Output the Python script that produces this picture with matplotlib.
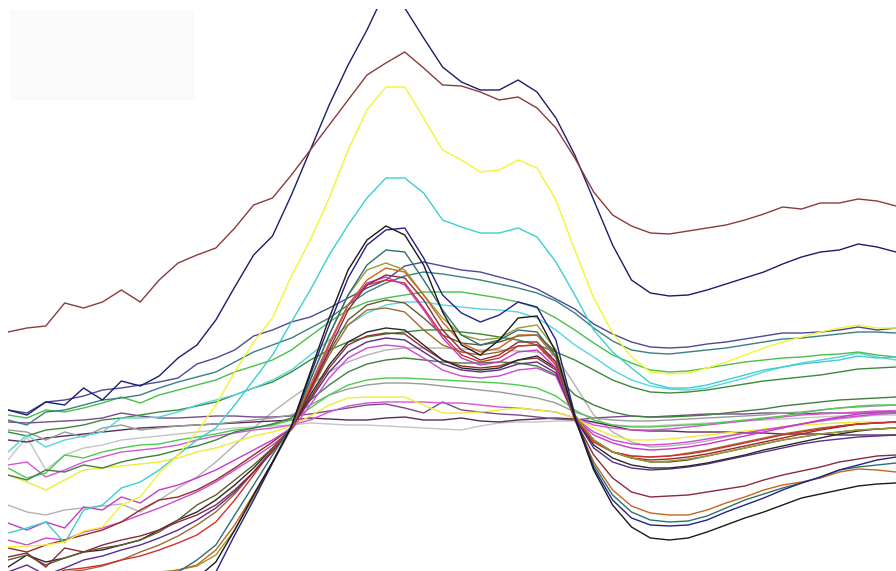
import numpy as np
import matplotlib
matplotlib.use("Agg")
import matplotlib.pyplot as plt
from matplotlib.patches import Rectangle

# Sample positions along the spectrum (48 channels)
channels = np.arange(48)

# Signal depth per channel for each sample (larger = lower on the plot)
brown_top = [332,328,326,303,308,302,290,302,280,263,255,248,228,205,198,175,150,125,100,75,
             63,52,68,85,86,92,100,97,108,128,158,192,215,226,233,234,231,228,225,220,
             214,207,209,203,203,199,201,206]
navy_top = [410,415,402,405,388,400,381,386,376,358,345,320,287,255,236,195,150,105,65,30,
            -10,8,38,67,82,90,90,80,92,118,155,200,245,280,293,296,295,290,284,278,
            272,264,257,252,250,244,247,252]
yellow_top = [547,546,545,542,531,527,505,497,473,455,432,405,372,342,318,276,240,198,150,110,
              87,87,118,150,160,172,170,160,168,200,250,298,333,357,372,374,373,368,362,355,
              348,342,337,332,328,325,328,328]
cyan_top = [533,528,522,543,510,505,488,482,470,455,440,428,405,380,355,322,290,255,225,198,
            178,178,193,220,227,233,233,228,237,262,295,330,352,368,383,388,388,385,380,375,
            370,367,364,362,360,356,358,357]
slate_broad = [410,413,402,400,396,390,388,385,382,378,364,358,350,336,330,322,317,308,298,288,
               280,266,262,266,270,272,277,282,289,299,309,324,334,342,347,348,347,344,342,339,
               336,333,333,332,330,327,330,328]
teal_broad = [420,425,412,410,405,400,398,395,388,382,377,372,362,352,345,338,328,318,305,292,
              283,276,272,274,277,280,284,288,293,301,313,328,341,350,353,354,352,350,348,345,
              342,339,338,336,334,332,332,333]
green_broad = [415,418,410,412,408,403,397,403,395,390,385,380,372,366,360,350,336,322,310,302,
               298,295,292,292,292,295,298,302,308,318,330,343,355,363,370,372,371,368,365,362,
               360,358,357,355,354,352,355,357]
cyan_broad = [452,435,447,440,436,432,418,418,417,412,405,400,395,388,380,370,355,340,325,313,
              305,302,302,305,307,309,310,312,318,330,345,357,370,380,386,389,390,388,383,378,
              372,367,363,360,357,353,357,360]
darkgreen_broad = [432,436,430,428,425,420,418,415,412,410,406,402,395,388,382,372,360,350,342,337,
                   334,332,330,330,332,334,337,340,345,352,360,370,380,387,392,393,392,390,387,384,
                   381,379,377,375,372,369,368,367]
darkgreen_flat = [475,480,470,472,465,468,462,458,455,450,446,440,432,428,424,418,400,385,372,364,
                  360,358,360,362,363,363,362,363,366,375,395,405,412,416,417,417,416,415,413,411,
                  409,406,404,402,400,399,398,397]
green_flat = [468,478,473,455,458,452,448,445,444,440,437,434,430,428,425,420,408,395,385,380,
              378,378,379,380,381,382,383,385,388,396,410,420,425,427,427,426,425,424,422,420,
              418,416,413,410,408,406,405,405]
gray_flat = [430,432,440,432,437,428,425,430,428,426,425,424,422,420,418,415,405,395,389,385,
             383,383,384,386,388,390,392,395,398,403,412,418,420,421,421,420,419,418,417,416,
             415,413,412,410,408,407,406,405]
yellow_flat = [475,482,490,480,470,468,466,464,462,458,452,448,442,436,432,426,416,405,398,397,
               397,397,405,413,413,412,410,408,410,412,418,428,436,440,440,439,437,435,433,431,
               429,427,425,424,423,422,422,422]
magenta_flat = [465,462,477,470,462,457,452,450,448,445,440,436,433,430,428,425,420,412,406,403,
                402,402,402,403,403,405,407,408,410,412,418,425,428,430,430,429,427,425,423,421,
                419,417,415,414,413,412,411,411]
purple_flat = [422,423,422,421,420,418,413,416,418,418,417,416,416,417,417,416,414,411,408,405,
               404,408,413,402,410,412,414,415,417,419,420,418,417,416,417,416,415,414,414,414,
               413,413,414,413,413,413,413,413]
plum_flat = [440,442,438,436,434,432,430,428,427,426,425,424,423,422,421,420,418,419,420,420,
             418,417,420,420,418,421,422,420,419,418,419,422,426,430,431,431,432,432,432,433,
             433,434,434,434,435,435,435,435]
silver_flat = [460,437,470,455,448,445,440,438,436,434,432,430,428,427,426,425,423,424,425,425,
               426,427,428,429,430,426,423,422,422,421,421,423,425,426,426,425,424,423,422,421,
               420,419,418,417,416,415,415,415]
silver_mid = [505,512,515,510,508,506,504,512,500,488,477,462,445,428,412,398,385,372,362,355,
              350,348,348,348,349,350,350,351,352,356,385,415,432,442,447,446,444,441,437,433,
              430,427,424,421,419,417,415,413]
black_a = [590,585,595,588,592,596,600,598,594,588,578,562,530,495,462,426,372,318,270,240,
           226,235,265,312,345,355,340,318,316,352,418,470,505,527,538,540,538,532,525,518,
           512,505,498,494,490,486,484,483]
navy_a = [600,595,605,600,605,610,612,610,605,598,588,572,535,500,463,427,375,325,278,245,
          230,228,258,295,313,322,315,302,307,340,415,468,500,518,525,526,525,520,512,505,
          498,490,483,477,470,465,460,457]
teal_a = [585,580,590,585,588,590,588,585,580,572,560,545,515,485,455,426,380,335,295,265,
          250,252,280,310,335,345,340,330,332,356,418,465,495,512,520,522,521,516,508,500,
          494,488,483,477,470,467,465,463]
orange_a = [580,578,585,582,585,588,585,580,575,570,565,550,525,494,462,428,385,343,305,280,
            268,272,295,322,343,352,348,335,335,358,420,462,490,506,513,515,515,510,503,497,
            490,485,482,478,472,469,470,472]
maroon_a = [557,553,567,548,552,545,540,536,530,522,515,505,490,472,452,428,390,350,310,285,
            275,278,300,330,350,360,355,342,342,362,420,455,478,492,497,496,495,492,489,486,
            480,475,471,467,462,459,456,455]
olive_a = [585,580,588,582,585,580,578,575,572,570,566,555,530,497,463,428,380,335,295,270,
           263,270,295,318,335,340,338,328,325,350,415,440,452,458,462,461,459,456,452,448,
           444,440,437,434,432,430,429,428]
magenta_a = [523,530,522,528,507,510,497,503,490,485,478,470,460,450,440,428,390,345,305,283,
             277,285,310,338,358,365,362,352,350,368,418,435,443,448,450,449,447,444,440,436,
             432,428,424,420,417,414,412,411]
red_a = [575,572,578,570,568,565,560,556,550,543,535,522,500,475,450,428,388,345,305,285,
         280,283,308,335,355,362,358,346,345,365,418,442,452,456,457,456,454,451,447,443,
         439,435,432,429,426,424,423,422]
darkolive_a = [560,555,565,558,552,548,545,540,532,520,505,495,480,465,448,428,390,352,320,305,
               300,303,318,335,343,345,342,336,335,352,415,440,452,458,462,462,460,456,452,448,
               444,440,437,434,432,430,429,428]
black_b = [567,555,562,558,552,550,545,540,530,520,512,500,485,468,448,428,395,365,342,332,
           328,330,345,360,368,370,368,360,356,368,418,445,458,465,468,468,466,463,459,455,
           450,446,442,438,434,431,429,428]
darkred_a = [548,552,545,540,535,530,522,510,500,497,490,480,468,455,442,428,398,368,345,336,
             333,334,348,360,366,368,366,360,358,370,418,440,452,458,460,459,457,454,450,446,
             442,438,434,430,427,424,423,422]
purple_a = [572,565,575,568,560,556,550,545,538,530,520,508,492,472,450,428,400,372,352,342,
            338,340,352,364,370,372,370,364,362,373,418,448,462,468,470,469,467,464,460,456,
            452,448,444,441,439,437,436,435]
magenta_b = [540,545,538,540,532,528,522,515,508,500,492,482,470,458,445,430,405,378,358,348,
             345,347,358,370,376,378,376,370,368,376,418,432,440,444,445,444,442,439,436,433,
             430,427,424,421,418,416,414,413]
brown_a = [578,575,580,572,570,566,560,552,545,536,525,512,494,472,450,428,392,355,325,310,
           308,312,330,345,352,355,352,346,345,362,418,442,452,456,457,456,453,450,446,442,
           438,434,431,428,426,424,423,422]

series = [
    (silver_flat, "#c4c4c4"), (silver_mid, "#b2b2b2"), (plum_flat, "#5a2a5a"),
    (purple_flat, "#7a4a8a"), (magenta_flat, "#d455d4"), (yellow_flat, "#ecec36"),
    (gray_flat, "#9a9a9a"), (green_flat, "#4ccc4c"), (darkgreen_flat, "#3f7f3f"),
    (darkgreen_broad, "#3a8a3a"), (cyan_broad, "#55d5df"), (green_broad, "#48c048"),
    (teal_broad, "#3a7f80"), (slate_broad, "#4a4a98"),
    (brown_a, "#a06a2a"), (magenta_b, "#d048d0"), (purple_a, "#5a2d8c"),
    (darkred_a, "#962b2b"), (black_b, "#2a2a2a"), (darkolive_a, "#5e5e2e"),
    (red_a, "#d03030"), (magenta_a, "#c838c8"), (olive_a, "#9a9a30"),
    (maroon_a, "#8a2a3a"), (orange_a, "#c8641e"), (teal_a, "#2e7070"),
    (navy_a, "#22228a"), (black_a, "#1a1a1a"),
    (cyan_top, "#3ccfcf"), (yellow_top, "#f4f430"), (navy_top, "#1c1c6b"),
    (brown_top, "#8c3b3b"),
]

W, H = 896, 571
fig = plt.figure(figsize=(W / 100, H / 100), dpi=100, facecolor="white")

# faint empty legend panel in the upper left
fig.patches.append(Rectangle((10 / W, 1 - 100 / H), 185 / W, 90 / H,
                             transform=fig.transFigure, facecolor="#fafafa",
                             edgecolor="none", zorder=0))

ax = fig.add_axes([8 / W, 0, 888 / W, (H - 9) / H])
ax.set_facecolor("none")
for values, color in series:
    ax.plot(channels, values, color=color, linewidth=1.0, solid_joinstyle="miter")

ax.set_xlim(0, 47)
ax.set_ylim(H, 9)
ax.axis("off")

fig.savefig("out.png", dpi=100, facecolor="white")
